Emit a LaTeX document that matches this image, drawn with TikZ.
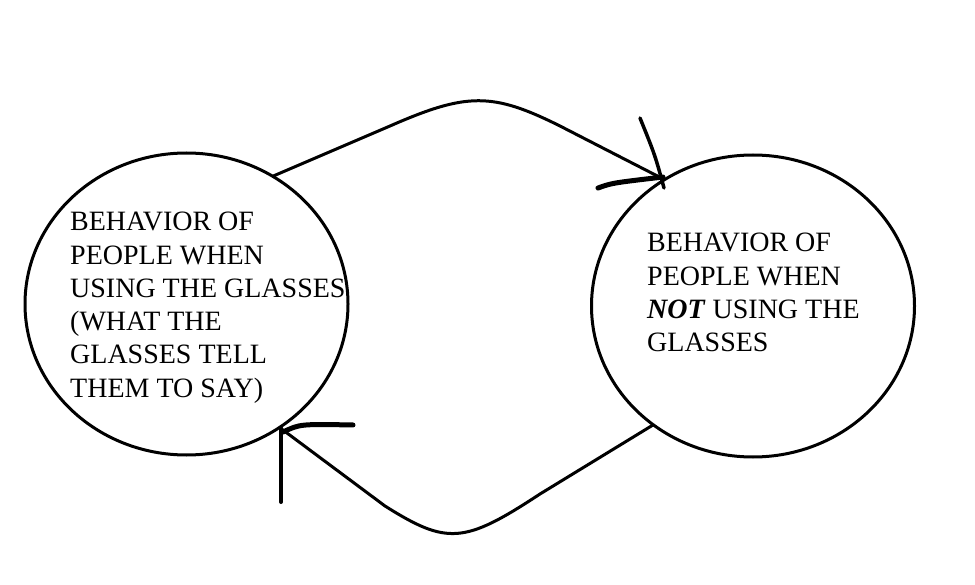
\documentclass[tikz,border=0pt]{standalone}
\usepackage{fontspec}
\setmainfont{Liberation Serif}
\usetikzlibrary{shapes.geometric}
\begin{document}
\begin{tikzpicture}[x=1pt,y=-1pt,
  bubble/.style={ellipse,draw,line width=3pt,minimum width=323pt,minimum height=302pt,inner sep=0pt,outer sep=0pt},
  bubbletext/.style={anchor=north west,inner sep=0pt,align=left,font=\fontsize{28}{33.3}\selectfont},
  conn/.style={line width=3pt,line join=round},
  headstroke/.style={line width=4pt,line cap=round}]
\useasboundingbox (0,0) rectangle (975,585);
\node[bubble] (L) at (186.5,304) {};
\node[bubble] (R) at (753,306) {};
\node[bubbletext] (Lt) at (70,212) {BEHAVIOR OF\\PEOPLE WHEN\\USING THE GLASSES\\(WHAT THE\\GLASSES TELL\\THEM TO SAY)};
\node[bubbletext] (Rt) at (647,233) {BEHAVIOR OF\\PEOPLE WHEN\\\textbf{\textit{NOT}} USING THE\\GLASSES};
% top connector
\coordinate (t1) at (390,126);
\coordinate (tc1) at (466.9,92.3);
\coordinate (tc2) at (492.4,92.3);
\coordinate (t2) at (560,126);
\draw[conn] (L.56) -- (t1) .. controls (tc1) and (tc2) .. (t2) -- (R.125.2);
\coordinate (ta1) at (640,118);
\coordinate (ta2) at (664,188);
\coordinate (tb1) at (598,188);
\coordinate (tb2) at (663,177);
\draw[headstroke,line width=3.5pt] (ta1) .. controls (655,155) .. (ta2);
\draw[headstroke,line width=5pt] (tb1) .. controls (612,183) .. (tb2);
% bottom connector
\coordinate (b1) at (540,494);
\coordinate (bc1) at (464,544);
\coordinate (bc2) at (447,545);
\coordinate (b2) at (385,506);
\draw[conn] (R.230.8) -- (b1) .. controls (bc1) and (bc2) .. (b2) -- (L.307.6);
\coordinate (ba1) at (281,428);
\coordinate (ba2) at (281,502);
\coordinate (bb1) at (283,432);
\coordinate (bb2) at (353,425);
\draw[headstroke] (ba1) -- (ba2);
\draw[headstroke,line width=5pt] (bb1) .. controls (300,424) .. (bb2);
\end{tikzpicture}
\end{document}
